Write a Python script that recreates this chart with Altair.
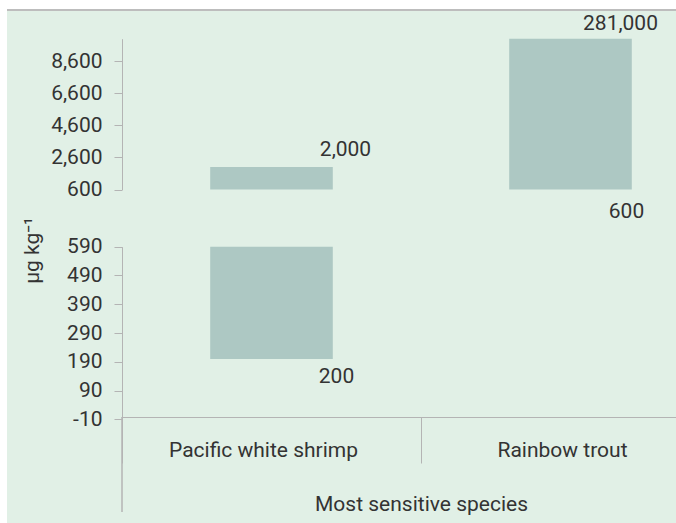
import altair as alt
import pandas as pd

# ---- data ----
species = ["Pacific white shrimp", "Rainbow trout"]
low_values = [200, 600]
high_values = [2000, 281000]

top_ticks = [600, 2600, 4600, 6600, 8600]
bottom_ticks = [-10, 90, 190, 290, 390, 490, 590]
top_domain = [600, 10000]
bottom_domain = [-10, 590]

df = pd.DataFrame({"species": species, "low": low_values, "high": high_values})

FONT = "Roboto"
FS = 21
TEXT = "#333333"
LINE = "#b4b4b4"
BAR = "#adc8c3"
BG = "#e1f0e6"

W, H = 554, 407

LABEL_EXPR = "datum.value < 0 ? '-' + format(-datum.value, ',') : format(datum.value, ',')"
STYLE = dict(
    labelFont=FONT, labelFontSize=FS, labelColor=TEXT,
    titleFont=FONT, titleFontSize=FS, titleColor=TEXT, titleFontWeight="normal",
    domainColor=LINE, tickColor=LINE, grid=False, zindex=1,
)

x_scale = alt.Scale(domain=species, range=[0, 598], paddingInner=0, paddingOuter=0)
top_scale = alt.Scale(domain=top_domain, range=[179.5, 28.7], clamp=True, zero=False, nice=False)
bot_scale = alt.Scale(domain=bottom_domain, range=[409.3, 236.7], clamp=True, zero=False, nice=False)

x_axis = alt.Axis(
    title="Most sensitive species", bandPosition=0, tickSize=46,
    labelPadding=-13, labelBaseline="middle", labelOffset=-8, labelAngle=0,
    labelFlush=False, labelLimit=400, titleY=87, titleBaseline="middle", **STYLE,
)
top_axis = alt.Axis(
    orient="left", values=top_ticks, labelExpr=LABEL_EXPR, tickSize=8, labelPadding=12,
    title="μg kg⁻¹", titleX=-90, titleY=240, titleAngle=270,
    titleAlign="center", titleBaseline="middle", **STYLE,
)
bot_axis = alt.Axis(
    orient="left", values=bottom_ticks, labelExpr=LABEL_EXPR, tickSize=8, labelPadding=12,
    title="", **STYLE,
)

base = alt.Chart(df)

bg = base.mark_rect(color=BG).encode(
    x=alt.value(-115), x2=alt.value(W), y=alt.value(1), y2=alt.value(513)
)
top_line = base.mark_rule(color="#bdbdbd", strokeWidth=2).encode(
    x=alt.value(-115), x2=alt.value(W), y=alt.value(0)
)
left_line = base.mark_rule(color=LINE, strokeWidth=1).encode(
    x=alt.value(0), y=alt.value(H), y2=alt.value(502)
)

X = alt.X("species:N", scale=x_scale, axis=x_axis, sort=species)

top_bars = base.mark_bar(width={"band": 0.41}, color=BAR).encode(
    x=X, y=alt.Y("low:Q", scale=top_scale, axis=top_axis), y2="high:Q",
)
bot_bars = base.transform_filter("datum.low < 590").mark_bar(width={"band": 0.41}, color=BAR).encode(
    x=X, y=alt.Y("low:Q", scale=bot_scale, axis=bot_axis), y2="high:Q",
)


def label(sp, field, dx, dy, scale, axis):
    return base.transform_filter(alt.datum.species == sp).mark_text(
        dx=dx, dy=dy, font=FONT, fontSize=FS, color=TEXT, align="center", baseline="middle"
    ).encode(
        x=X,
        y=alt.Y(f"{field}:Q", scale=scale, axis=axis),
        text=alt.Text(f"{field}:Q", format=","),
    )


top_group = alt.layer(
    top_bars,
    label(species[0], "high", 74, -17, top_scale, top_axis),
    label(species[1], "high", 50, -15, top_scale, top_axis),
    label(species[1], "low", 56, 22, top_scale, top_axis),
)
bot_group = alt.layer(
    bot_bars,
    label(species[0], "low", 65, 18, bot_scale, bot_axis),
)

chart = alt.layer(bg, top_line, left_line, top_group, bot_group).resolve_scale(
    y="independent"
).properties(
    width=W, height=H,
    padding={"left": 122, "top": 10, "right": 0, "bottom": 106},
    autosize=alt.AutoSizeParams(type="none"),
    background="white",
).configure_view(strokeWidth=0)

chart.save("out.html", embed_options={"renderer": "svg", "actions": False})
